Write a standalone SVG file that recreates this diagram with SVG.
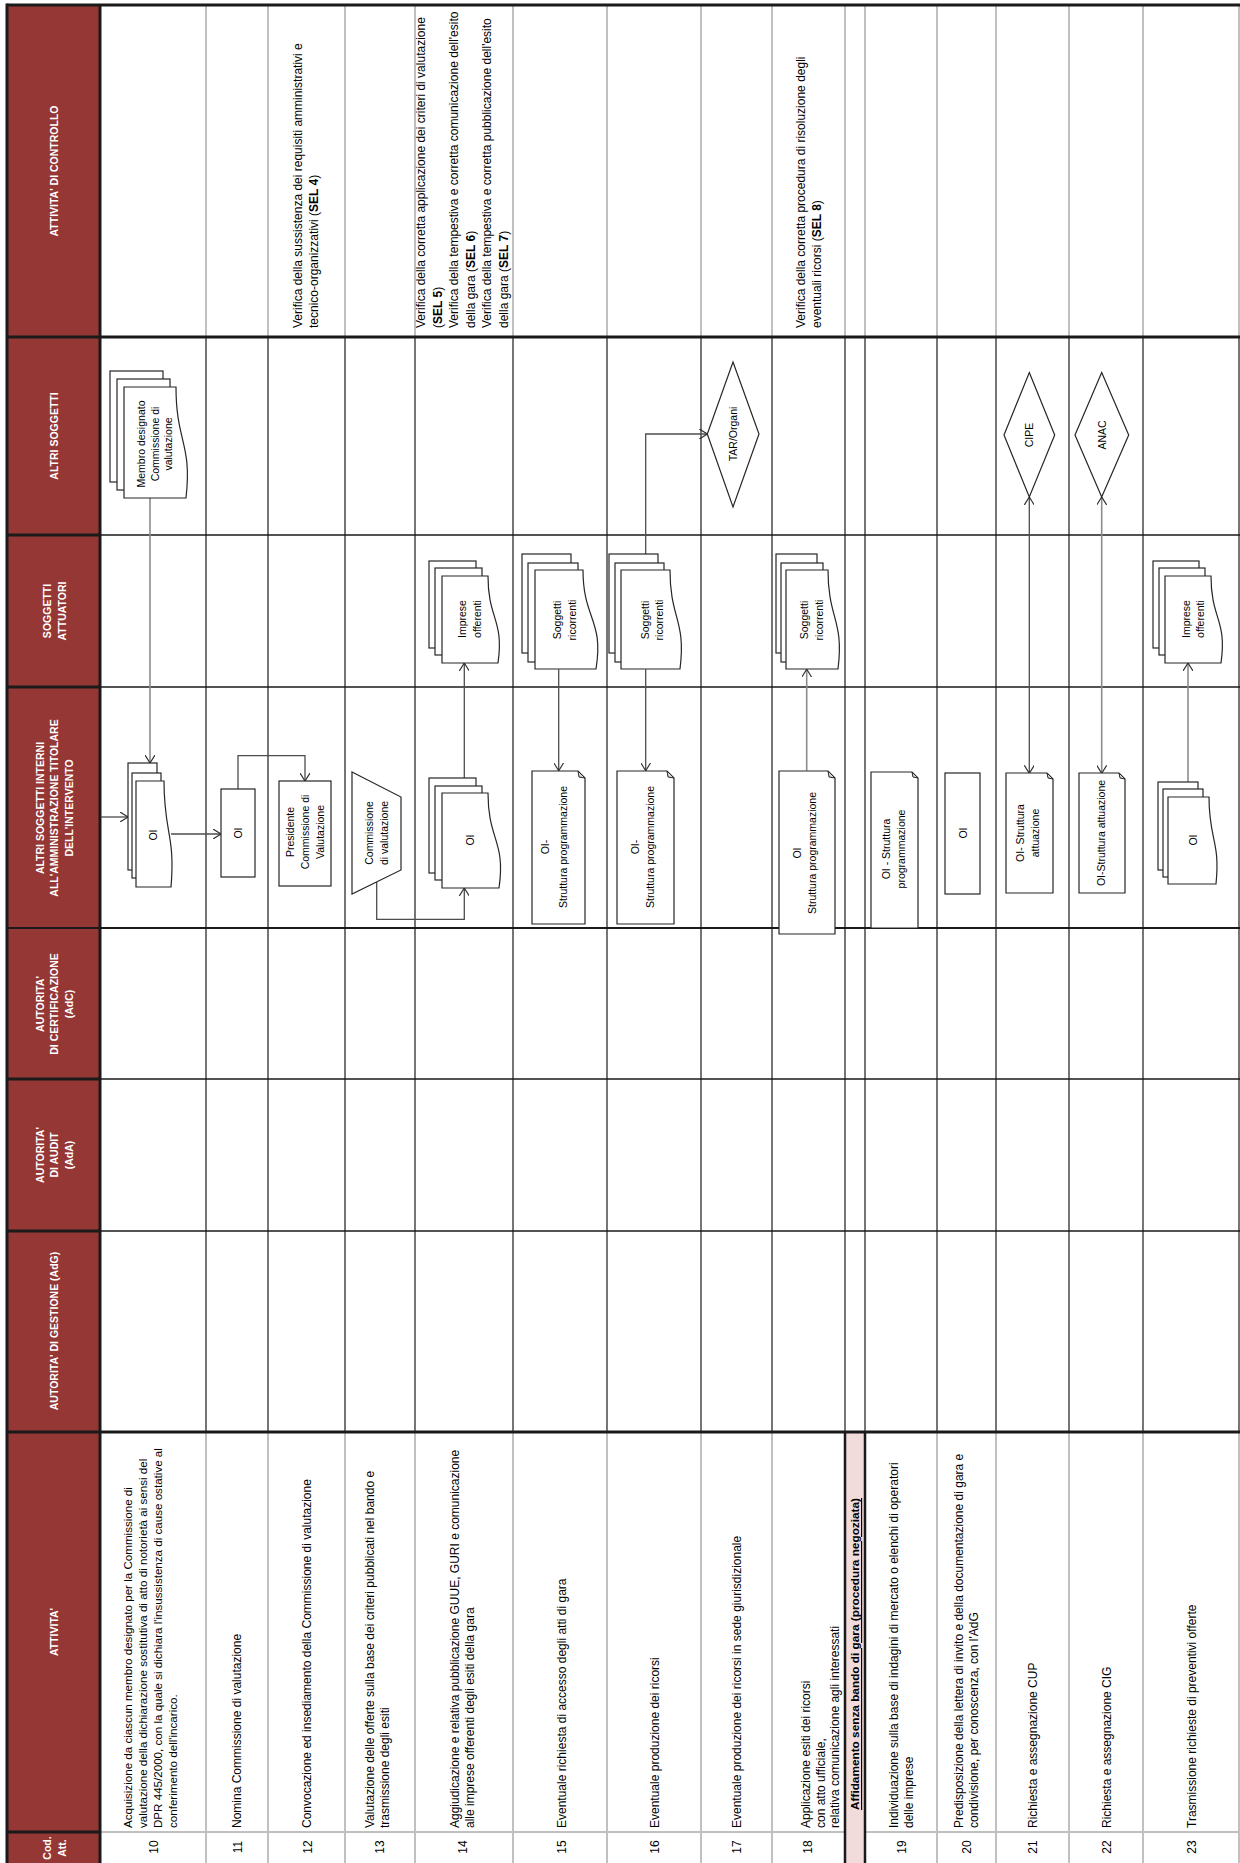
<svg xmlns="http://www.w3.org/2000/svg" width="1240" height="1863" viewBox="0 0 1240 1863">
<style>
text { font-family: "Liberation Sans", Arial, sans-serif; }
.hdr { font-weight: bold; font-size: 10.5px; fill: #fff; text-anchor: middle; dominant-baseline: central; }
.tx { font-size: 12px; fill: #000; dominant-baseline: central; }
.tx2 { font-size: 11.6px; }
.sec { font-size: 11.8px; font-weight: bold; fill: #000; dominant-baseline: central; text-decoration: underline; }
.num { font-size: 12px; fill: #000; text-anchor: middle; dominant-baseline: central; }
.lb { font-size: 10.5px; fill: #000; text-anchor: middle; dominant-baseline: central; }
.b { font-weight: bold; }
.sh { fill: #fff; stroke: #262626; stroke-width: 1.2; }
.fold { fill: #d9d9d9; stroke: #262626; stroke-width: 1; }
.cn { fill: none; stroke: #4d4d4d; stroke-width: 1.3; }
.cg { fill: none; stroke: #8c8c8c; stroke-width: 1.6; }
.gv { stroke: #c0c0c0; stroke-width: 2; }
.bv { stroke: #1a1a1a; stroke-width: 1.2; }
.hl { stroke: #1a1a1a; }
</style>
<defs>
<marker id="arr" viewBox="0 0 8 10" refX="8" refY="5" markerWidth="8" markerHeight="10" markerUnits="userSpaceOnUse" orient="auto-start-reverse">
<path d="M0,0 L8,5 L0,10" fill="none" stroke="#333" stroke-width="1.2"/>
</marker>
</defs>
<rect width="1240" height="1863" fill="#fff"/>

<g id="grid">
<rect x="7" y="5" width="93" height="1858" fill="#953735"/>
<rect x="845" y="1432" width="20" height="431" fill="#f2dcdb"/>
<g class="gv">
<line x1="206" y1="5" x2="206" y2="337"/><line x1="268" y1="5" x2="268" y2="337"/><line x1="345" y1="5" x2="345" y2="337"/>
<line x1="415" y1="5" x2="415" y2="337"/><line x1="513" y1="5" x2="513" y2="337"/><line x1="607" y1="5" x2="607" y2="337"/>
<line x1="701" y1="5" x2="701" y2="337"/><line x1="772" y1="5" x2="772" y2="337"/><line x1="845" y1="5" x2="845" y2="337"/>
<line x1="865" y1="5" x2="865" y2="337"/><line x1="937" y1="5" x2="937" y2="337"/><line x1="996" y1="5" x2="996" y2="337"/>
<line x1="1069" y1="5" x2="1069" y2="337"/><line x1="1143" y1="5" x2="1143" y2="337"/><line x1="1239" y1="5" x2="1239" y2="337"/>
<line x1="206" y1="1432" x2="206" y2="1863"/><line x1="268" y1="1432" x2="268" y2="1863"/><line x1="345" y1="1432" x2="345" y2="1863"/>
<line x1="415" y1="1432" x2="415" y2="1863"/><line x1="513" y1="1432" x2="513" y2="1863"/><line x1="607" y1="1432" x2="607" y2="1863"/>
<line x1="701" y1="1432" x2="701" y2="1863"/><line x1="772" y1="1432" x2="772" y2="1863"/>
<line x1="937" y1="1432" x2="937" y2="1863"/><line x1="996" y1="1432" x2="996" y2="1863"/>
<line x1="1069" y1="1432" x2="1069" y2="1863"/><line x1="1143" y1="1432" x2="1143" y2="1863"/><line x1="1239" y1="1432" x2="1239" y2="1863"/>
<line x1="100" y1="1832" x2="845" y2="1832"/><line x1="865" y1="1832" x2="1240" y2="1832"/>
</g>
<g class="bv">
<line x1="206" y1="337" x2="206" y2="1432"/><line x1="268" y1="337" x2="268" y2="1432"/><line x1="345" y1="337" x2="345" y2="1432"/>
<line x1="415" y1="337" x2="415" y2="1432"/><line x1="513" y1="337" x2="513" y2="1432"/><line x1="607" y1="337" x2="607" y2="1432"/>
<line x1="701" y1="337" x2="701" y2="1432"/><line x1="772" y1="337" x2="772" y2="1432"/><line x1="845" y1="337" x2="845" y2="1432"/>
<line x1="865" y1="337" x2="865" y2="1432"/><line x1="937" y1="337" x2="937" y2="1432"/><line x1="996" y1="337" x2="996" y2="1432"/>
<line x1="1069" y1="337" x2="1069" y2="1432"/><line x1="1143" y1="337" x2="1143" y2="1432"/><line x1="1239" y1="337" x2="1239" y2="1432"/>
</g>
<g class="hl">
<line x1="845" y1="1432" x2="845" y2="1863" stroke-width="2.5"/>
<line x1="865" y1="1432" x2="865" y2="1863" stroke-width="2.5"/>
<line x1="7" y1="5" x2="1240" y2="5" stroke-width="3"/>
<line x1="7" y1="337" x2="1240" y2="337" stroke-width="3"/>
<line x1="7" y1="535" x2="1240" y2="535" stroke-width="1.6"/>
<line x1="7" y1="687" x2="1240" y2="687" stroke-width="1.6"/>
<line x1="7" y1="928" x2="1240" y2="928" stroke-width="2.2"/>
<line x1="7" y1="1079" x2="1240" y2="1079" stroke-width="1.6"/>
<line x1="7" y1="1231" x2="1240" y2="1231" stroke-width="1.6"/>
<line x1="7" y1="1432" x2="1240" y2="1432" stroke-width="3"/>
<line x1="7" y1="1832" x2="100" y2="1832" stroke-width="3"/>
<line x1="7" y1="535" x2="100" y2="535" stroke-width="3"/>
<line x1="7" y1="687" x2="100" y2="687" stroke-width="3"/>
<line x1="7" y1="1079" x2="100" y2="1079" stroke-width="3"/>
<line x1="7" y1="1231" x2="100" y2="1231" stroke-width="3"/>
<line x1="7" y1="3.5" x2="7" y2="1863" stroke-width="3"/>
<line x1="100" y1="5" x2="100" y2="1863" stroke-width="3"/>
</g>
</g>

<g id="headers" class="hdr">
<text transform="rotate(-90)" x="-171" y="54">ATTIVITA' DI CONTROLLO</text>
<text transform="rotate(-90)" x="-436" y="54">ALTRI SOGGETTI</text>
<text transform="rotate(-90)" x="-611" y="47">SOGGETTI</text>
<text transform="rotate(-90)" x="-611" y="61.5">ATTUATORI</text>
<text transform="rotate(-90)" x="-808" y="39.5">ALTRI SOGGETTI INTERNI</text>
<text transform="rotate(-90)" x="-808" y="54">ALL'AMMINISTRAZIONE TITOLARE</text>
<text transform="rotate(-90)" x="-808" y="68.5">DELL'INTERVENTO</text>
<text transform="rotate(-90)" x="-1004" y="39.5">AUTORITA'</text>
<text transform="rotate(-90)" x="-1004" y="54">DI CERTIFICAZIONE</text>
<text transform="rotate(-90)" x="-1004" y="68.5">(AdC)</text>
<text transform="rotate(-90)" x="-1155" y="39.5">AUTORITA'</text>
<text transform="rotate(-90)" x="-1155" y="54">DI AUDIT</text>
<text transform="rotate(-90)" x="-1155" y="68.5">(AdA)</text>
<text transform="rotate(-90)" x="-1331" y="54">AUTORITA' DI GESTIONE (AdG)</text>
<text transform="rotate(-90)" x="-1632" y="54">ATTIVITA'</text>
<text transform="rotate(-90)" x="-1848" y="47">Cod.</text>
<text transform="rotate(-90)" x="-1848" y="61.5">Att.</text>
</g>

<g id="controls" class="tx">
<text transform="rotate(-90)" x="-328" y="298">Verifica della sussistenza dei requisiti amministrativi e</text>
<text transform="rotate(-90)" x="-328" y="313.5">tecnico-organizzativi (<tspan class="b">SEL 4</tspan>)</text>
<text transform="rotate(-90)" x="-328" y="421">Verifica della corretta applicazione dei criteri di valutazione</text>
<text transform="rotate(-90)" x="-328" y="437.5">(<tspan class="b">SEL 5</tspan>)</text>
<text transform="rotate(-90)" x="-328" y="454">Verifica della  tempestiva e corretta comunicazione dell'esito</text>
<text transform="rotate(-90)" x="-328" y="470.5">della gara (<tspan class="b">SEL 6</tspan>)</text>
<text transform="rotate(-90)" x="-328" y="487">Verifica della  tempestiva e corretta pubblicazione dell'esito</text>
<text transform="rotate(-90)" x="-328" y="503.5">della gara (<tspan class="b">SEL 7</tspan>)</text>
<text transform="rotate(-90)" x="-328" y="801">Verifica della corretta procedura di risoluzione degli</text>
<text transform="rotate(-90)" x="-328" y="817">eventuali ricorsi (<tspan class="b">SEL 8</tspan>)</text>
</g>

<g id="activities" class="tx">
<text class="tx2" transform="rotate(-90)" x="-1828" y="127">Acquisizione da ciascun membro designato per la Commissione di</text>
<text class="tx2" transform="rotate(-90)" x="-1828" y="142">valutazione della dichiarazione sostitutiva di atto di notorietà ai sensi del</text>
<text class="tx2" transform="rotate(-90)" x="-1828" y="157">DPR 445/2000, con la quale si dichiara l'insussistenza di cause ostative al</text>
<text class="tx2" transform="rotate(-90)" x="-1828" y="172">conferimento dell'incarico.</text>
<text transform="rotate(-90)" x="-1828" y="237">Nomina Commissione di valutazione</text>
<text transform="rotate(-90)" x="-1828" y="307">Convocazione ed insediamento della Commissione di valutazione</text>
<text transform="rotate(-90)" x="-1828" y="370">Valutazione delle offerte sulla base dei criteri pubblicati nel bando e</text>
<text transform="rotate(-90)" x="-1828" y="385">trasmissione degli esiti</text>
<text transform="rotate(-90)" x="-1828" y="455">Aggiudicazione e relativa pubblicazione GUUE, GURI e comunicazione</text>
<text transform="rotate(-90)" x="-1828" y="470">alle imprese offerenti degli esiti della gara</text>
<text transform="rotate(-90)" x="-1828" y="561.7">Eventuale richiesta di accesso  degli atti di gara</text>
<text transform="rotate(-90)" x="-1828" y="655">Eventuale produzione dei ricorsi</text>
<text transform="rotate(-90)" x="-1828" y="736.7">Eventuale produzione dei ricorsi in sede giurisdizionale</text>
<text transform="rotate(-90)" x="-1828" y="806">Applicazione  esiti dei ricorsi</text>
<text transform="rotate(-90)" x="-1828" y="820.5">con atto ufficiale,</text>
<text transform="rotate(-90)" x="-1828" y="835">relativa  comunicazione agli interessati</text>
<text class="sec" transform="rotate(-90)" x="-1810" y="855">Affidamento senza bando di gara (procedura negoziata)</text>
<text transform="rotate(-90)" x="-1828" y="894">Individuazione sulla base di indagini di mercato o elenchi di operatori</text>
<text transform="rotate(-90)" x="-1828" y="909">delle imprese</text>
<text transform="rotate(-90)" x="-1828" y="959">Predisposizione della lettera di invito e della documentazione di gara e</text>
<text transform="rotate(-90)" x="-1828" y="974">condivisione, per conoscenza, con l'AdG</text>
<text transform="rotate(-90)" x="-1828" y="1033.3">Richiesta  e assegnazione CUP</text>
<text transform="rotate(-90)" x="-1828" y="1106.7">Richiesta e assegnazione CIG</text>
<text transform="rotate(-90)" x="-1828" y="1191.7">Trasmissione richieste di preventivi offerte</text>
</g>

<g id="codes" class="num">
<text transform="rotate(-90)" x="-1847" y="154">10</text>
<text transform="rotate(-90)" x="-1847" y="238.3">11</text>
<text transform="rotate(-90)" x="-1847" y="308.3">12</text>
<text transform="rotate(-90)" x="-1847" y="380">13</text>
<text transform="rotate(-90)" x="-1847" y="463.3">14</text>
<text transform="rotate(-90)" x="-1847" y="561.7">15</text>
<text transform="rotate(-90)" x="-1847" y="655">16</text>
<text transform="rotate(-90)" x="-1847" y="736.7">17</text>
<text transform="rotate(-90)" x="-1847" y="808.3">18</text>
<text transform="rotate(-90)" x="-1847" y="901.7">19</text>
<text transform="rotate(-90)" x="-1847" y="966.7">20</text>
<text transform="rotate(-90)" x="-1847" y="1033.3">21</text>
<text transform="rotate(-90)" x="-1847" y="1106.7">22</text>
<text transform="rotate(-90)" x="-1847" y="1191.7">23</text>
</g>

<g id="connectors">
<path class="cg" d="M150,498 V763" marker-end="url(#arr)"/>
<path class="cn" d="M101,817 H128" marker-end="url(#arr)"/>
<path class="cn" d="M171,834 H221" marker-end="url(#arr)"/>
<path class="cn" d="M238,789 V755.7 H305 V781" marker-end="url(#arr)"/>
<path class="cn" d="M376.7,882 V919.3 H464.3 V888" marker-end="url(#arr)"/>
<path class="cn" d="M464.3,778.3 V663" marker-end="url(#arr)"/>
<path class="cn" d="M558.7,669.3 V770.7" marker-end="url(#arr)"/>
<path class="cn" d="M645.7,669.3 V770.7" marker-end="url(#arr)"/>
<path class="cn" d="M645.7,554.3 V434 H707.3" marker-end="url(#arr)"/>
<path class="cg" d="M806.7,770.7 V669.3" marker-end="url(#arr)"/>
<path class="cn" d="M1029.3,497 V773.3" marker-start="url(#arr)" marker-end="url(#arr)"/>
<path class="cg" d="M1101.7,497 V773.3" marker-start="url(#arr)" marker-end="url(#arr)"/>
<path class="cg" d="M1188,782.3 V663" marker-end="url(#arr)"/>
</g>

<g id="n10-membro">
<rect class="sh" x="110" y="371" width="53" height="111"/>
<rect class="sh" x="117" y="379" width="53" height="111"/>
<path class="sh" d="M124,387 H176 C176,442.5 192.25,442.5 186,498 H124 Z"/>
<text class="lb" transform="rotate(-90)" x="-444" y="141">Membro designato</text>
<text class="lb" transform="rotate(-90)" x="-444" y="154.5">Commissione di</text>
<text class="lb" transform="rotate(-90)" x="-444" y="168">valutazione</text>
</g>

<g id="n10-oi">
<rect class="sh" x="128" y="763" width="29" height="107"/>
<rect class="sh" x="132" y="773" width="29" height="105"/>
<path class="sh" d="M136,781 H164 C164,834 175.4,834 171,887 H136 Z"/>
<text class="lb" transform="rotate(-90)" x="-835" y="153">OI</text>
</g>

<g id="n11-oi">
<rect class="sh" x="221" y="789" width="34" height="88"/>
<text class="lb" transform="rotate(-90)" x="-833" y="238">OI</text>
</g>

<g id="n12-presidente">
<rect class="sh" x="279" y="781" width="52" height="105"/>
<text class="lb" transform="rotate(-90)" x="-832" y="290">Presidente</text>
<text class="lb" transform="rotate(-90)" x="-832" y="305">Commissione di</text>
<text class="lb" transform="rotate(-90)" x="-832" y="320">Valutazione</text>
</g>

<g id="n13-commissione">
<polygon class="sh" points="352,772 401,797 401,870 352,894"/>
<text class="lb" transform="rotate(-90)" x="-833" y="369">Commissione</text>
<text class="lb" transform="rotate(-90)" x="-833" y="384">di valutazione</text>
</g>

<g id="n14-imprese">
<rect class="sh" x="429" y="561" width="47" height="87"/>
<rect class="sh" x="435" y="568" width="47" height="87"/>
<path class="sh" d="M442,576 H488 C488,619.5 504.25,619.5 498,663 H442 Z"/>
<text class="lb" transform="rotate(-90)" x="-619" y="462">Imprese</text>
<text class="lb" transform="rotate(-90)" x="-619" y="477">offerenti</text>
</g>

<g id="n14-oi">
<rect class="sh" x="429" y="778" width="47" height="95"/>
<rect class="sh" x="435" y="786" width="47" height="94"/>
<path class="sh" d="M442,793 H488 C488,840.5 505.9,840.5 499,888 H442 Z"/>
<text class="lb" transform="rotate(-90)" x="-840" y="470">OI</text>
</g>

<g id="n15-ricorrenti">
<rect class="sh" x="522" y="554" width="49" height="99"/>
<rect class="sh" x="528" y="563" width="50" height="99"/>
<path class="sh" d="M535,570 H583 C583,619.5 604.1,619.5 596,669 H535 Z"/>
<text class="lb" transform="rotate(-90)" x="-620" y="556.7">Soggetti</text>
<text class="lb" transform="rotate(-90)" x="-620" y="571.7">ricorrenti</text>
</g>

<g id="n15-oi">
<path class="sh" d="M532,771 H578 L585,778 V924 H532 Z"/>
<path class="fold" d="M578,771 L579,777 L585,778 Z"/>
<text class="lb" transform="rotate(-90)" x="-847" y="545">OI-</text>
<text class="lb" transform="rotate(-90)" x="-847" y="563.3">Struttura  programmazione</text>
</g>

<g id="n16-ricorrenti">
<rect class="sh" x="609" y="554" width="49" height="99"/>
<rect class="sh" x="615" y="563" width="49" height="99"/>
<path class="sh" d="M621,570 H670 C670,619.5 686.25,619.5 680,669 H621 Z"/>
<text class="lb" transform="rotate(-90)" x="-620" y="645">Soggetti</text>
<text class="lb" transform="rotate(-90)" x="-620" y="659.3">ricorrenti</text>
</g>

<g id="n16-oi">
<path class="sh" d="M617,771 H667 L674,778 V924 H617 Z"/>
<path class="fold" d="M667,771 L668,777 L674,778 Z"/>
<text class="lb" transform="rotate(-90)" x="-847" y="635">OI-</text>
<text class="lb" transform="rotate(-90)" x="-847" y="650">Struttura  programmazione</text>
</g>

<g id="n17-tar">
<polygon class="sh" points="733,362 759,434 733,507 707.3,434"/>
<text class="lb" transform="rotate(-90)" x="-434" y="733">TAR/Organi</text>
</g>

<g id="n18-ricorrenti">
<rect class="sh" x="776" y="554" width="41" height="99"/>
<rect class="sh" x="781" y="563" width="42" height="99"/>
<path class="sh" d="M786,570 H828 C828,619.5 844.25,619.5 838,669 H786 Z"/>
<text class="lb" transform="rotate(-90)" x="-620" y="804.3">Soggetti</text>
<text class="lb" transform="rotate(-90)" x="-620" y="819.3">ricorrenti</text>
</g>

<g id="n18-oi">
<path class="sh" d="M779,771 H828 L835,778 V934 H779 Z"/>
<path class="fold" d="M828,771 L829,777 L835,778 Z"/>
<text class="lb" transform="rotate(-90)" x="-853" y="796.7">OI</text>
<text class="lb" transform="rotate(-90)" x="-853" y="812.3">Struttura programmazione</text>
</g>

<g id="n19-oi">
<path class="sh" d="M871,772 H912 L918,778 V928 H871 Z"/>
<path class="fold" d="M912,772 L913,777 L918,778 Z"/>
<text class="lb" transform="rotate(-90)" x="-849" y="885.7">OI - Struttura</text>
<text class="lb" transform="rotate(-90)" x="-849" y="900.7">programmazione</text>
</g>

<g id="n20-oi">
<rect class="sh" x="945" y="773" width="35" height="121"/>
<text class="lb" transform="rotate(-90)" x="-833" y="962.7">OI</text>
</g>

<g id="n21-cipe">
<polygon class="sh" points="1029.3,372.5 1054.7,435 1029.3,497 1004,435"/>
<text class="lb" transform="rotate(-90)" x="-435" y="1029.3">CIPE</text>
</g>

<g id="n21-oi">
<path class="sh" d="M1006,773 H1047 L1053,779 V893 H1006 Z"/>
<path class="fold" d="M1047,773 L1048,778 L1053,779 Z"/>
<text class="lb" transform="rotate(-90)" x="-833" y="1020">OI- Struttura</text>
<text class="lb" transform="rotate(-90)" x="-833" y="1035">attuazione</text>
</g>

<g id="n22-anac">
<polygon class="sh" points="1101.7,372.5 1128.7,435 1101.7,497 1075,435"/>
<text class="lb" transform="rotate(-90)" x="-435" y="1101.7">ANAC</text>
</g>

<g id="n22-oi">
<path class="sh" d="M1079,773 H1119 L1125,779 V893 H1079 Z"/>
<path class="fold" d="M1119,773 L1120,778 L1125,779 Z"/>
<text class="lb" transform="rotate(-90)" x="-833" y="1101">OI-Struttura  attuazione</text>
</g>

<g id="n23-imprese">
<rect class="sh" x="1153" y="561" width="46" height="87"/>
<rect class="sh" x="1159" y="568" width="46" height="87"/>
<path class="sh" d="M1165,576 H1211 C1211,619.5 1227.25,619.5 1221,663 H1165 Z"/>
<text class="lb" transform="rotate(-90)" x="-619" y="1186">Imprese</text>
<text class="lb" transform="rotate(-90)" x="-619" y="1200">offerenti</text>
</g>

<g id="n23-oi">
<rect class="sh" x="1158" y="782" width="40" height="88"/>
<rect class="sh" x="1163" y="789" width="40" height="88"/>
<path class="sh" d="M1168,797 H1209 C1209,840.5 1220.4,840.5 1216,884 H1168 Z"/>
<text class="lb" transform="rotate(-90)" x="-840" y="1192.7">OI</text>
</g>
</svg>
